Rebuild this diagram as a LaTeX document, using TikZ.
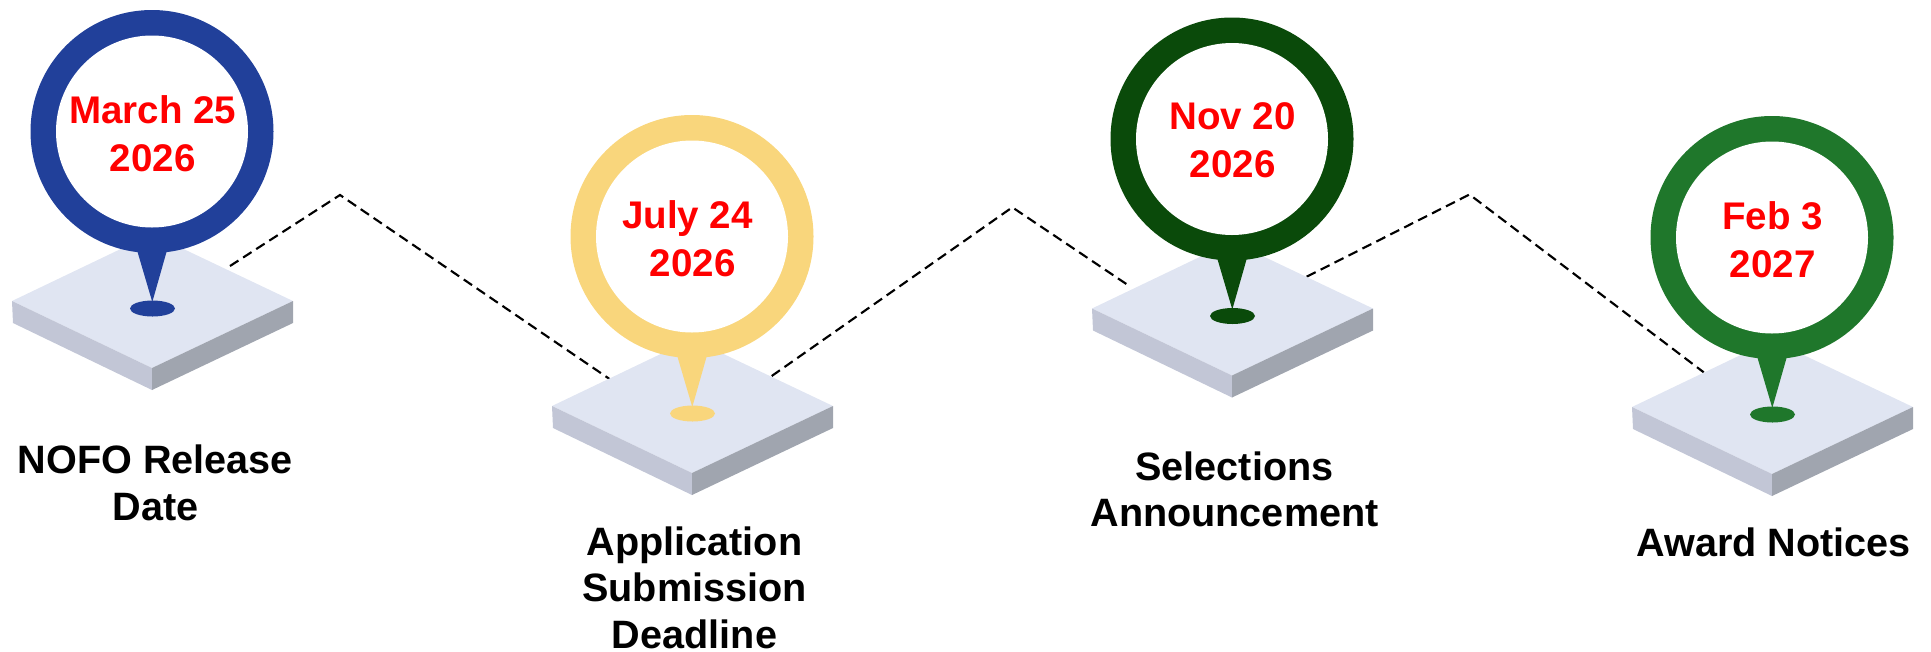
\documentclass[tikz,border=0pt]{standalone}
\usepackage{fontspec}
\setmainfont{Liberation Sans}
\definecolor{cblue}{HTML}{21409A}
\definecolor{cyel}{HTML}{F9D67C}
\definecolor{cdkg}{HTML}{0A4A0A}
\definecolor{cgrn}{HTML}{1F772B}
\definecolor{ptop}{HTML}{E0E5F2}
\definecolor{pleft}{HTML}{C2C6D6}
\definecolor{pright}{HTML}{A0A5AF}
\tikzset{
  datetxt/.style={text=red,font=\bfseries\fontsize{28.9pt}{36.2pt}\selectfont,align=center,inner sep=0pt},
  labeltxt/.style={text=black,font=\bfseries\fontsize{29.7pt}{35pt}\selectfont,align=center,inner sep=0pt},
  dashline/.style={black,line width=1.6pt,dash pattern=on 7.5pt off 4.2pt}
}
\newcommand{\marker}[3]{%
 \begin{scope}[shift={(#1,#2)}]
  \fill[ptop] (12,-301) -- (152,-234) -- (293,-301) -- (152,-368) -- cycle;
  \fill[pleft] (12,-301) -- (152,-368) -- (152,-390) -- (13,-323) -- cycle;
  \fill[pright] (293,-301) -- (152,-368) -- (152,-390) -- (293,-323) -- cycle;
  \fill[#3] (135.5,-245) -- (168.5,-245) -- (152.3,-302) -- cycle;
  \fill[#3] (152.5,-308.5) ellipse [x radius=22.5,y radius=8];
  \fill[#3] (152,-131.5) circle [radius=121.5];
  \fill[white] (152,-131.5) circle [radius=96];
 \end{scope}}
\begin{document}
\begin{tikzpicture}[x=0.75pt,y=0.75pt]
\useasboundingbox (0,0) rectangle (1931,-651);
\coordinate (s1) at (230,-266);
\coordinate (p1) at (340,-195);
\coordinate (e1) at (610,-379.3);
\coordinate (s2) at (771.7,-376);
\coordinate (p2) at (1012.3,-207.3);
\coordinate (e2) at (1129.3,-286);
\coordinate (s3) at (1306.7,-276.7);
\coordinate (p3) at (1469.5,-194.5);
\coordinate (e3) at (1703.7,-372.3);
\draw[dashline] (s1) -- (p1) -- (e1);
\draw[dashline] (s2) -- (p2) -- (e2);
\draw[dashline] (s3) -- (p3) -- (e3);
\marker{0}{0}{cblue}
\marker{540}{-105}{cyel}
\marker{1080}{-7.5}{cdkg}
\marker{1620}{-106}{cgrn}
\node[datetxt] (d1) at (152.7,-133.5) {March 25\\2026};
\node[datetxt] (d2) at (692.7,-238.5) {July 24\hspace*{8pt}\\2026};
\node[datetxt] (d3) at (1232.7,-140.3) {Nov 20\\2026};
\node[datetxt] (d4) at (1772.7,-239.5) {Feb 3\\2027};
\node[labeltxt] (l1) at (155.5,-483) {NOFO Release\\Date};
\node[labeltxt] (l2) at (694.5,-587.5) {Application\\Submission\\Deadline};
\node[labeltxt] (l3) at (1234.5,-489.5) {Selections\\Announcement};
\node[labeltxt] (l4) at (1773.5,-542) {Award Notices};
\end{tikzpicture}
\end{document}
